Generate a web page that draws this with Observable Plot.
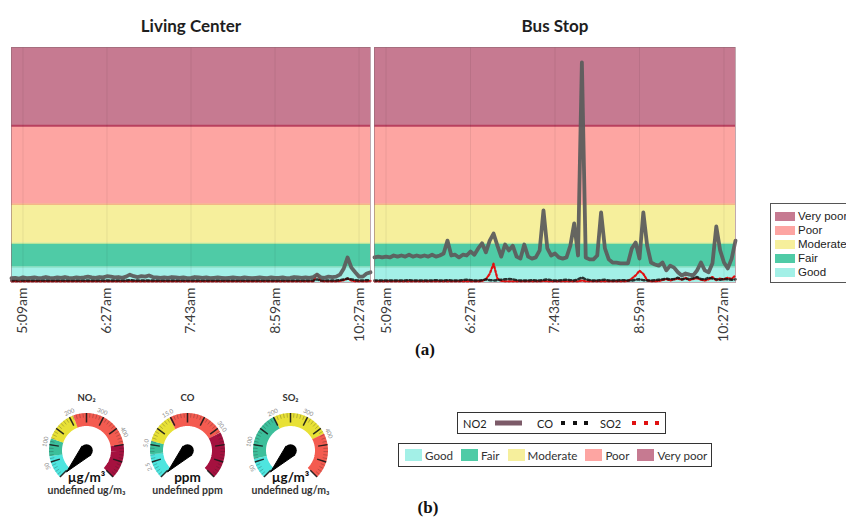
<!DOCTYPE html>
<html><head><meta charset="utf-8">
<script src="https://cdn.jsdelivr.net/npm/d3@7"></script>
<script src="https://cdn.jsdelivr.net/npm/@observablehq/plot@0.6"></script>
<style>
body{margin:0;background:#fff;}
#root{position:relative;width:846px;height:517px;overflow:hidden;font-family:Lato,sans-serif;background:#fff;}
.abs{position:absolute;}
.cap{position:absolute;font-family:"Liberation Serif","Times New Roman",serif;font-weight:bold;font-size:17px;color:#111;transform:translate(-50%,-50%);}
.it{position:absolute;top:50%;transform:translateY(-50%);}
</style></head><body><div id="root"></div>
<script>
// ---------- data ----------
const panelTitles = ["Living Center", "Bus Stop"];
const tickIndex = [3, 25, 47, 69, 91];
const tickLabels = ["5:09am", "6:27am", "7:43am", "8:59am", "10:27am"];
const bandNames = ["Good", "Fair", "Moderate", "Poor", "Very poor"];
const bandLow = [0, 40, 100, 200, 400];
const bandHigh = [40, 100, 200, 400, 600];
const seriesNames = ["NO2", "CO", "SO2"];

const no2Living = [
  11,12,10,13,11,12,13,11,12,14,
  12,11,13,12,14,12,11,13,12,13,
  15,13,12,14,13,16,15,13,14,12,
  15,20,16,14,16,15,18,14,13,12,
  13,12,14,13,12,13,11,12,14,13,
  12,13,11,12,13,12,11,12,13,12,
  11,13,12,11,12,13,12,11,13,12,
  12,13,11,12,14,13,12,13,12,14,
  20,13,12,15,14,15,20,36,64,38,
  26,15,15,23,26];
const coLiving = [
  5,5,5,5,5,5,5,5,5,5,
  5,5,5,5,5,5,5,5,5,5,
  5,5,5,5,5,5,5,5,5,5,
  5,6,5,5,5,5,5,5,5,5,
  5,5,5,5,5,5,5,5,5,5,
  5,5,5,5,5,5,5,5,5,5,
  5,5,5,5,5,5,5,5,5,5,
  5,5,5,5,5,5,5,5,5,5,
  8,5,5,5,5,5,6,8,10,8,
  6,5,5,6,6];
const so2Living = [
  3,3,3,3,3,3,3,3,3,3,
  3,3,3,3,3,3,3,3,3,3,
  3,3,3,3,3,3,3,3,3,3,
  3,3,3,3,3,3,3,3,3,3,
  3,3,3,3,3,3,3,3,3,3,
  3,3,3,3,3,3,3,3,3,3,
  3,3,3,3,3,3,3,3,3,3,
  3,3,3,3,3,3,3,3,3,3,
  22,4,3,3,3,3,4,6,10,5,
  3,3,3,3,4];
const no2Bus = [
  64,66,64,66,64,69,66,69,66,71,
  66,69,66,69,66,71,66,69,74,107,
  69,71,64,71,69,79,71,87,100,77,
  107,125,94,66,97,82,94,66,61,97,
  66,61,64,82,184,87,69,74,64,61,
  64,94,151,69,562,64,59,59,69,179,
  87,59,51,51,49,49,49,87,102,61,
  179,94,51,46,43,51,31,43,38,26,
  18,23,20,18,31,51,31,26,49,143,
  82,51,36,61,107];
const coBus = [
  5,5,5,5,5,5,5,5,5,6,
  5,5,5,5,5,5,6,5,5,6,
  5,5,5,6,7,6,5,5,6,8,
  6,5,6,7,8,9,8,6,5,5,
  5,6,5,5,6,8,6,5,5,6,
  7,6,5,8,13,8,6,5,5,6,
  7,5,5,5,6,6,5,5,7,8,
  6,5,5,6,7,8,10,8,9,12,
  8,10,9,11,14,9,8,12,10,8,
  7,9,8,7,8];
const so2Bus = [
  3,3,3,3,3,3,3,3,3,3,
  3,3,3,3,3,3,3,3,3,3,
  3,3,3,3,3,3,3,3,4,8,
  22,48,10,4,3,3,3,3,3,3,
  3,3,3,3,4,3,3,3,3,3,
  3,3,3,3,5,3,3,3,3,3,
  3,3,3,3,3,3,4,10,18,30,
  22,6,3,3,4,6,9,5,8,10,
  7,12,6,9,11,7,5,8,14,6,
  10,8,12,9,18];

// gauges
const gaugeNames = ["NO\u2082", "CO", "SO\u2082"];
const gaugeUnits = ["\u00b5g/m\u00b3", "ppm", "\u00b5g/m\u00b3"];
const gaugeReadouts = ["undefined ug/m\u2083", "undefined ppm", "undefined ug/m\u2083"];
const gaugeTickLabels = [["50","100","200","300","400"], ["2.5","5.0","15.0","30.0"], ["50","100","200","300","400"]];
const gaugeTickAngles = [[-112,-78,-24,22,64], [-113,-80,-28,55], [-115,-78,-25,25,66]];
const gaugeBandStart = [[-135,-99,-71,-21,80], [-135,-96,-75,-29,61], [-135,-103,-26,63]];
const gaugeBandEnd   = [[-99,-71,-21,80,135], [-96,-75,-29,61,135], [-103,-26,63,135]];
const gaugeBandCat   = [["Good","Fair","Moderate","Poor","Very poor"], ["Good","Fair","Moderate","Poor","Very poor"], ["Good","Fair","Moderate","Poor"]];
const needleAngle = [-137, -137, -137];

// ---------- styles ----------
const bandFill = {"Good":"#a3f0e7","Fair":"#4fcba6","Moderate":"#f6ef9c","Poor":"#fda5a2","Very poor":"#c67a91"};
const bandEdge = {"Fair":"#7fd9b8","Moderate":"#b5e59a","Poor":"#f3a57f","Very poor":"#b8405f"};
const gaugeFill = {"Good":"#4ee5df","Fair":"#3cbf9b","Moderate":"#e8e136","Poor":"#f45b50","Very poor":"#a5113f"};
const seriesColor = {"NO2":"#7c5a68","CO":"#111111","SO2":"#e01010"};

const root = document.getElementById("root");
function place(node, left, top) {
  const d = document.createElement("div");
  d.className = "abs"; d.style.left = left + "px"; d.style.top = top + "px";
  d.appendChild(node); root.appendChild(d); return d;
}

// ---------- panels ----------
function panel(title, no2, co, so2, left, width) {
  const idx = d3.range(no2.length);
  const bands = bandNames.map((n, i) => ({n, lo: bandLow[i], hi: bandHigh[i]}));
  const edges = bandNames.slice(1).map((n, i) => ({n, v: bandLow[i + 1]}));
  const p = Plot.plot({
    width, height: 345,
    marginLeft: 11, marginRight: 2, marginTop: 47, marginBottom: 63,
    x: {domain: [0, no2.length - 1], ticks: tickIndex, tickFormat: v => tickLabels[tickIndex.indexOf(v)],
        tickRotate: -90, tickSize: 0, tickPadding: 5, label: null},
    y: {domain: [0, 600], axis: null},
    color: {type: "identity"},
    style: {fontFamily: "Lato, sans-serif", fontSize: "14px", color: "#3b3b3b", overflow: "visible", background: "transparent"},
    marks: [
      Plot.rect(bands, {y1: "lo", y2: "hi", fill: d => bandFill[d.n]}),
      Plot.ruleY(edges, {y: "v", stroke: d => bandEdge[d.n], strokeWidth: d => d.n === "Very poor" ? 2 : 1.2}),
      Plot.ruleX(tickIndex, {stroke: "#000", strokeOpacity: 0.07}),
      Plot.line(idx, {x: i => i, y: i => so2[i], stroke: seriesColor.SO2, strokeWidth: 2.2, strokeDasharray: "2,2"}),
      Plot.line(idx, {x: i => i, y: i => co[i], stroke: seriesColor.CO, strokeWidth: 2.5, strokeDasharray: "2.5,2.5", strokeOpacity: 0.85}),
      Plot.line(idx, {x: i => i, y: i => no2[i], stroke: "#5d5d5d", strokeWidth: 3.8, strokeLinejoin: "round", strokeOpacity: 0.95}),
      Plot.frame({stroke: "#8c6470", strokeOpacity: 0.55}),
      Plot.text([title], {frameAnchor: "top", lineAnchor: "middle", dy: -21, fontSize: 17, fontWeight: "bold", fill: "#1e1e1e"})
    ]
  });
  place(p, left, 0);
}
panel(panelTitles[0], no2Living, coLiving, so2Living, 0, 372);
panel(panelTitles[1], no2Bus, coBus, so2Bus, 363, 374);

// right legend of (a)
(function () {
  const box = document.createElement("div");
  box.style.cssText = "width:90px;height:80px;border:1.5px solid #555;box-sizing:border-box;padding:5px 0 0 4px;font-family:'Liberation Sans',Arial,sans-serif;font-size:11.5px;color:#222;background:#fff;";
  bandNames.slice().reverse().forEach(n => {
    const row = document.createElement("div");
    row.style.cssText = "display:flex;align-items:center;height:14px;white-space:nowrap;";
    row.innerHTML = `<span style="display:inline-block;width:20px;height:9px;background:${bandFill[n]};margin-right:3px"></span>${n}`;
    box.appendChild(row);
  });
  place(box, 770, 203);
})();

// ---------- gauges ----------
function gauge(k, cx, cy) {
  const R = 31;
  const rad = a => a * Math.PI / 180;
  const arc = [];
  gaugeBandStart[k].forEach((a0, j) => {
    const a1 = gaugeBandEnd[k][j], cat = gaugeBandCat[k][j];
    const n = Math.max(2, Math.ceil((a1 - a0) / 2));
    for (let s = 0; s <= n; s++) {
      const a = a0 + (a1 - a0) * s / n;
      arc.push({x: R * Math.sin(rad(a)), y: R * Math.cos(rad(a)), seg: j, c: gaugeFill[cat]});
    }
  });
  const major = d3.range(-135, 135.1, 27).map(a => ({a}));
  const minor = d3.range(-135, 135.1, 5.4).map(a => ({a}));
  const lab = gaugeTickLabels[k].map((t, i) => ({t, a: gaugeTickAngles[k][i]}));
  const na = needleAngle[k], hr = 6.3, tl = 29;
  const needle = [
    {x: tl * Math.sin(rad(na)), y: tl * Math.cos(rad(na))},
    {x: hr * Math.sin(rad(na + 90)), y: hr * Math.cos(rad(na + 90))},
    {x: hr * Math.sin(rad(na - 90)), y: hr * Math.cos(rad(na - 90))},
    {x: tl * Math.sin(rad(na)), y: tl * Math.cos(rad(na))}
  ];
  const p = Plot.plot({
    width: 110, height: 110, margin: 0,
    x: {domain: [-55, 55], axis: null},
    y: {domain: [-45, 65], axis: null},
    color: {type: "identity"},
    style: {overflow: "visible", background: "transparent", fontFamily: "Lato, sans-serif"},
    marks: [
      Plot.line(arc, {x: "x", y: "y", z: "seg", stroke: "c", strokeWidth: 13, strokeLinecap: "butt"}),
      Plot.link(minor, {x1: d => 33 * Math.sin(rad(d.a)), y1: d => 33 * Math.cos(rad(d.a)),
        x2: d => 37.5 * Math.sin(rad(d.a)), y2: d => 37.5 * Math.cos(rad(d.a)), stroke: "#222", strokeWidth: 0.6, strokeOpacity: 0.45}),
      Plot.link(major, {x1: d => 28 * Math.sin(rad(d.a)), y1: d => 28 * Math.cos(rad(d.a)),
        x2: d => 37.5 * Math.sin(rad(d.a)), y2: d => 37.5 * Math.cos(rad(d.a)), stroke: "#1a1a1a", strokeWidth: 1.5, strokeOpacity: 0.9}),
      Plot.text(lab, {x: d => 42 * Math.sin(rad(d.a)), y: d => 42 * Math.cos(rad(d.a)), text: "t", rotate: "a", fontSize: 6, fill: "#8a8a8a"}),
      Plot.line(needle, {x: "x", y: "y", fill: "#000", stroke: "#000", strokeWidth: 1}),
      Plot.dot([0], {x: 0, y: 0, r: hr, fill: "#000"}),
      Plot.text([gaugeNames[k]], {x: 0, y: 52.5, fontSize: 9.5, fontWeight: "bold", fill: "#333"}),
      Plot.text([gaugeUnits[k]], {x: 0, y: -27, fontSize: 13.5, fontWeight: "bold", fill: "#111"}),
      Plot.text([gaugeReadouts[k]], {x: 0, y: -40, fontSize: 10.5, fontWeight: "bold", fill: "#333"})
    ]
  });
  place(p, cx - 55, cy - 65);
}
gauge(0, 85.5, 449.5);
gauge(1, 187, 449.5);
gauge(2, 290, 449.5);

// ---------- legends of (b) ----------
(function () {
  const box = document.createElement("div");
  box.style.cssText = "position:relative;width:209px;height:22px;border:1.5px solid #333;box-sizing:border-box;font-size:11px;color:#222;white-space:nowrap;background:#fff;";
  const textLeft = [5, 79, 142];
  const markLeft = [37, 103, 174];
  let html = "";
  seriesNames.forEach((s, i) => {
    html += `<span class="it" style="left:${textLeft[i]}px">${s}</span>`;
    if (s === "NO2") {
      html += `<span class="it" style="left:${markLeft[i]}px;width:27px;height:5px;background:${seriesColor[s]}"></span>`;
    } else {
      for (let j = 0; j < 3; j++)
        html += `<span class="it" style="left:${markLeft[i] + j * 11.5}px;width:4px;height:4px;background:${seriesColor[s]}"></span>`;
    }
  });
  box.innerHTML = html;
  place(box, 457, 412);

  const box2 = document.createElement("div");
  box2.style.cssText = "width:314px;height:24px;border:1.5px solid #333;box-sizing:border-box;display:flex;align-items:center;padding-left:6px;font-size:11.6px;color:#333;white-space:nowrap;background:#fff;";
  box2.innerHTML = bandNames.map(n => `<span style="display:inline-flex;align-items:center;margin-right:8px"><span style="display:inline-block;width:17px;height:12px;background:${bandFill[n]};margin-right:3px"></span>${n}</span>`).join("");
  place(box2, 398, 443);
})();

// captions
[["(a)", 425, 350], ["(b)", 428, 508]].forEach(([t, x, y]) => {
  const d = document.createElement("div"); d.className = "cap"; d.textContent = t;
  d.style.left = x + "px"; d.style.top = y + "px"; root.appendChild(d);
});
</script></body></html>
